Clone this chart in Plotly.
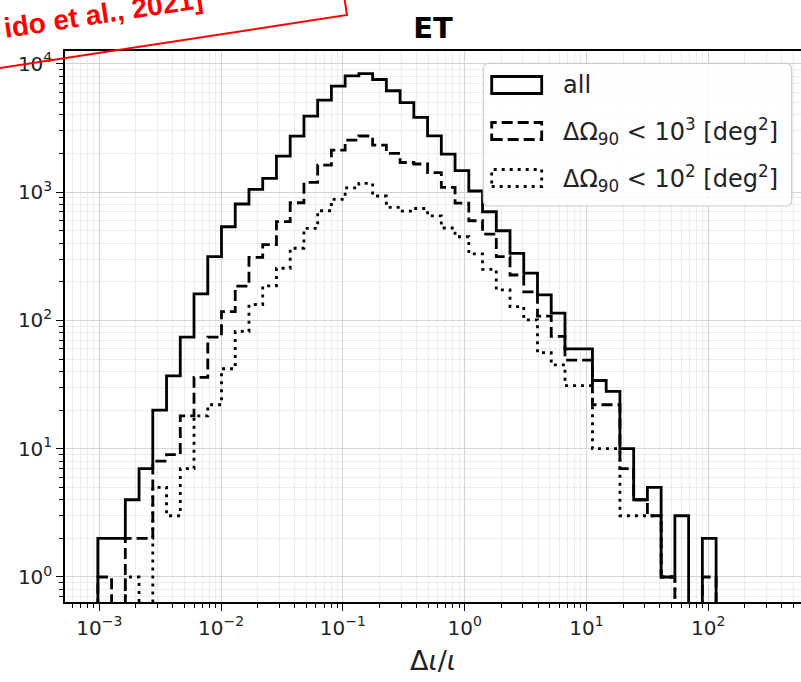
import numpy as np
import plotly.graph_objects as go

# ---------------- data ----------------
# 45 log-uniform bins of Δι/ι
log_edge_min = -3.012
log_edge_max = 2.064
n_bins = 45

series_names = ["all", "ΔΩ90 < 1e3 deg2", "ΔΩ90 < 1e2 deg2"]

counts_all = [2, 2, 4, 7, 20, 37, 74, 161, 314, 537,
              808, 1052, 1282, 1910, 2730, 3918, 5220, 6710, 8050, 8400,
              7550, 6170, 4990, 3820, 2740, 1975, 1470, 1020, 703, 500,
              333, 234, 158, 114, 60, 60, 34, 28, 10, 4,
              5, 1, 3, 0, 2]

counts_1e3 = [1, 0, 2, 2, 8, 9, 18, 36, 74, 117,
              185, 310, 390, 588, 826, 1190, 1626, 2128, 2547, 2737,
              2328, 2004, 1702, 1657, 1417, 1090, 822, 598, 471, 314,
              226, 167, 108, 75, 49, 49, 22, 22, 7, 4,
              3, 1, 0, 0, 1]

counts_1e2 = [0, 0, 1, 0, 5, 3, 7, 18, 22, 42,
              82, 133, 186, 255, 365, 522, 716, 879, 1080, 1170,
              933, 760, 710, 745, 652, 525, 449, 330, 250, 173,
              128, 101, 56, 45, 31, 31, 10, 10, 3, 3,
              3, 1, 0, 0, 0]

x_tick_vals = [1e-3, 1e-2, 1e-1, 1e0, 1e1, 1e2]
x_tick_text = ["10<sup>−3</sup>", "10<sup>−2</sup>", "10<sup>−1</sup>",
               "10<sup>0</sup>", "10<sup>1</sup>", "10<sup>2</sup>"]
y_tick_vals = [1, 10, 100, 1000, 10000]
y_tick_text = ["10<sup>0</sup>", "10<sup>1</sup>", "10<sup>2</sup>",
               "10<sup>3</sup>", "10<sup>4</sup>"]

legend_labels = ["all",
                 "ΔΩ<sub>90</sub> &lt; 10<sup>3</sup> [deg<sup>2</sup>]",
                 "ΔΩ<sub>90</sub> &lt; 10<sup>2</sup> [deg<sup>2</sup>]"]

# ---------------- layout geometry ----------------
W, H = 801, 682
ML, MR, MT, MB = 65, 0, 51, 80
PW = W - ML - MR
PH = H - MT - MB


def px(xp):
    return (xp - ML) / PW


def py(yp):
    return (H - MB - yp) / PH


edges = np.logspace(log_edge_min, log_edge_max, n_bins + 1)
FLOOR = 1e-3  # zero counts drop below the log axis like matplotlib's step hist


def step_xy(counts):
    x = [edges[0]] + list(edges)
    y = [FLOOR] + [c if c > 0 else FLOOR for c in counts] + [FLOOR]
    return x, y


styles = [
    dict(color="black", width=2.8, dash="solid"),
    dict(color="black", width=2.8, dash="11px,5px"),
    dict(color="black", width=2.8, dash="3px,5px"),
]

fig = go.Figure()
for name, counts, st in zip(series_names, [counts_all, counts_1e3, counts_1e2], styles):
    x, y = step_xy(counts)
    fig.add_trace(go.Scatter(x=x, y=y, mode="lines", line_shape="hv",
                             line=st, name=name, showlegend=False,
                             hoverinfo="skip"))

x_minor = [m * 10.0 ** e for e in range(-4, 3) for m in range(2, 10)]
y_minor = [m * 10.0 ** e for e in range(-1, 5) for m in range(2, 10)]

tick_font = dict(family="DejaVu Sans", size=20, color="#222222")
axis_common = dict(
    type="log", showline=True, linecolor="black", linewidth=1.5,
    ticks="outside", ticklen=7, tickwidth=1.3, tickcolor="black",
    showgrid=True, gridcolor="#d4d4d4", gridwidth=1,
    tickfont=tick_font, zeroline=False,
)

fig.update_xaxes(
    **axis_common,
    range=[-3.2816, 2.761], mirror=True,
    tickmode="array", tickvals=x_tick_vals, ticktext=x_tick_text,
    minor=dict(tickmode="array", tickvals=x_minor, ticks="outside", ticklen=4,
               tickwidth=1, tickcolor="black", showgrid=True,
               gridcolor="#ececec", gridwidth=1),
    title=dict(text="Δ<i>ι</i>/<i>ι</i>", standoff=12,
               font=dict(family="DejaVu Sans", size=27, color="#222222")),
)
fig.update_yaxes(
    **axis_common,
    range=[-0.195, 4.10], mirror=False,
    tickmode="array", tickvals=y_tick_vals, ticktext=y_tick_text,
    minor=dict(tickmode="array", tickvals=y_minor, ticks="outside", ticklen=4,
               tickwidth=1, tickcolor="black", showgrid=True,
               gridcolor="#ececec", gridwidth=1),
)

# ---------------- hand-drawn legend (matplotlib-style patches) ----------------
lx0, lx1, ly0, ly1, r = 483.3, 791.7, 63.3, 206.0, 6.0
rx, ry = r / PW, r / PH
path = (f"M {px(lx0)+rx} {py(ly0)} L {px(lx1)-rx} {py(ly0)} "
        f"Q {px(lx1)} {py(ly0)} {px(lx1)} {py(ly0)-ry} "
        f"L {px(lx1)} {py(ly1)+ry} Q {px(lx1)} {py(ly1)} {px(lx1)-rx} {py(ly1)} "
        f"L {px(lx0)+rx} {py(ly1)} Q {px(lx0)} {py(ly1)} {px(lx0)} {py(ly1)+ry} "
        f"L {px(lx0)} {py(ly0)-ry} Q {px(lx0)} {py(ly0)} {px(lx0)+rx} {py(ly0)} Z")
fig.add_shape(type="path", path=path, xref="paper", yref="paper", layer="above",
              fillcolor="rgba(255,255,255,0.85)", line=dict(color="#cccccc", width=1.2))

row_centers = [85, 131, 178]
for yc, st, lab in zip(row_centers, styles, legend_labels):
    fig.add_shape(type="rect", xref="paper", yref="paper", layer="above",
                  x0=px(491.7), x1=px(541.7), y0=py(yc + 8.5), y1=py(yc - 8.5),
                  line=dict(color="black", width=2.8, dash=st["dash"]))
    fig.add_annotation(text=lab, xref="paper", yref="paper", x=px(561), y=py(yc),
                       xanchor="left", yanchor="middle", showarrow=False,
                       font=dict(family="DejaVu Sans", size=24, color="#222222"))

# ---------------- red citation stamp (cropped in the reference) ----------------
fig.add_shape(type="path", xref="paper", yref="paper", layer="above",
              path=f"M {px(-20)} {py(71.05)} L {px(347)} {py(15)} L {px(343.95)} {py(-5)}",
              line=dict(color="#ff0000", width=2))
fig.add_annotation(text="<b>ido et al., 2021]</b>", xref="paper", yref="paper",
                   x=px(103), y=py(14), xanchor="center", yanchor="middle",
                   textangle=-8.6, showarrow=False,
                   font=dict(family="Liberation Sans", size=28, color="#ff0000"))

fig.update_layout(
    width=W, height=H,
    margin=dict(l=ML, r=MR, t=MT, b=MB, pad=0),
    paper_bgcolor="white", plot_bgcolor="white",
    title=dict(text="<b>ET</b>", x=433 / W, xref="container", xanchor="center",
               y=1 - 28 / H, yref="container", yanchor="middle",
               font=dict(family="DejaVu Sans", size=29, color="black")),
    showlegend=False,
)

fig.write_html("out.html",
               config={"displayModeBar": False},
               post_script="document.body.style.margin='0px';document.body.style.overflow='hidden';")
